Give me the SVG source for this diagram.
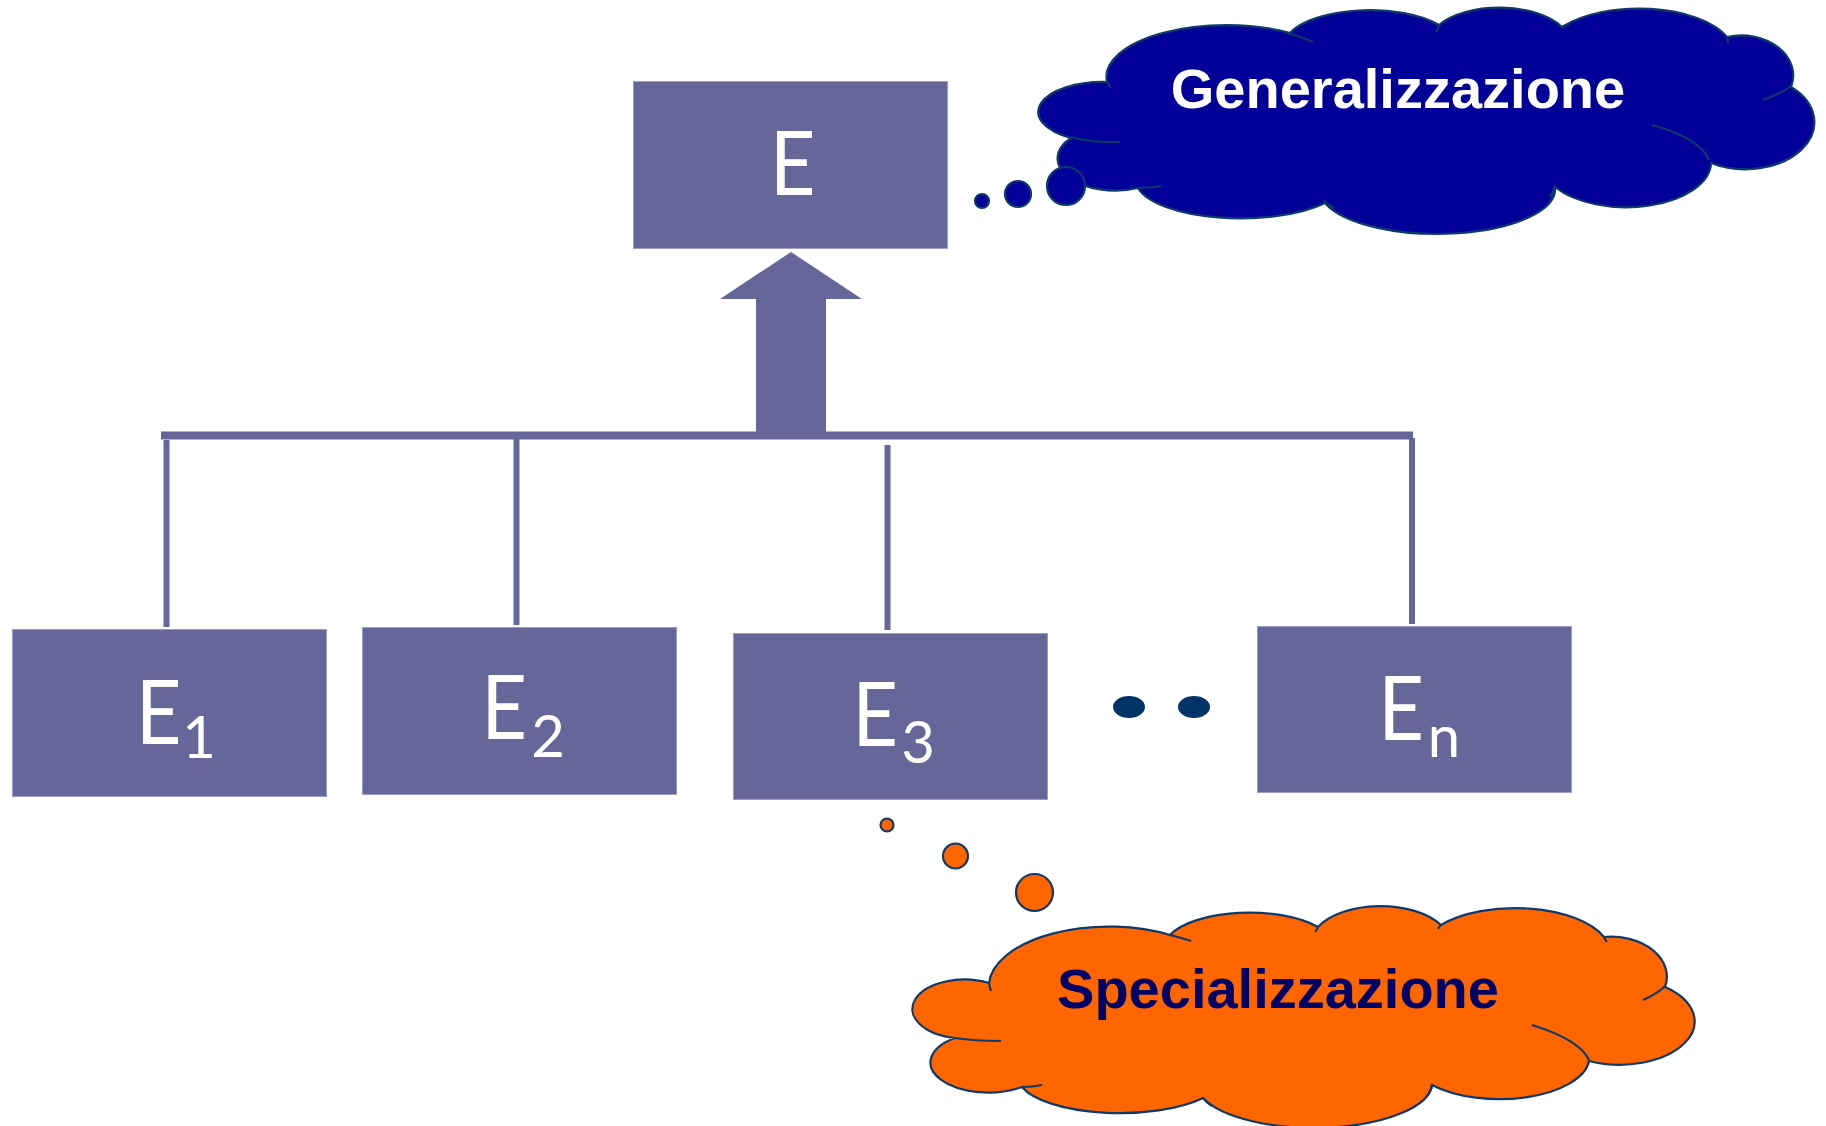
<svg xmlns="http://www.w3.org/2000/svg" width="1826" height="1126" viewBox="0 0 1826 1126">
  <style>
    .entity { fill: #666699; stroke: #9c9cc9; stroke-width: 1; }
    .elabel { fill: #ffffff; font-family: Lato, "DejaVu Sans", sans-serif; font-size: 90px; text-anchor: middle; }
    .esub { fill: #ffffff; font-family: Lato, "DejaVu Sans", sans-serif; font-size: 58px; text-anchor: middle; }
    .link { stroke: #666699; stroke-width: 6; fill: none; }
    .outline { stroke: #0d3a6a; stroke-width: 2.2; }
    .seam { fill: none; stroke: #0d3a6a; stroke-width: 2.2; }
    .blue { fill: #000099; }
    .orange { fill: #ff6600; }
    .cloudtext { font-family: "Liberation Sans", Arial, sans-serif; font-weight: bold; font-size: 56px; text-anchor: middle; }
  </style>

  <!-- connectors: hierarchy bar, drops to children and the generalisation arrow -->
  <g id="connectors">
    <rect x="161" y="431.5" width="1252" height="8" fill="#666699"/>
    <line class="link" x1="166.5" y1="440" x2="166.5" y2="627"/>
    <line class="link" x1="516.5" y1="438" x2="516.5" y2="625"/>
    <line class="link" x1="887.5" y1="445" x2="887.5" y2="630"/>
    <line class="link" x1="1412" y1="438" x2="1412" y2="624"/>
    <polygon points="791,252 862,299 826,299 826,436 756,436 756,299 720,299" fill="#666699"/>
  </g>

  <!-- parent entity -->
  <g id="node-E">
    <rect class="entity" x="633.5" y="81.5" width="314" height="167"/>
    <text class="elabel" transform="translate(792.5 195) scale(0.88 1)">E</text>
  </g>

  <!-- child entities -->
  <g id="node-E1">
    <rect class="entity" x="12.5" y="629.5" width="314" height="167"/>
    <text class="elabel" transform="translate(158.5 744) scale(0.88 1)">E</text>
    <text class="esub" x="199" y="758">1</text>
  </g>
  <g id="node-E2">
    <rect class="entity" x="362.5" y="627.5" width="314" height="167"/>
    <text class="elabel" transform="translate(504 739) scale(0.88 1)">E</text>
    <text class="esub" x="548" y="757">2</text>
  </g>
  <g id="node-E3">
    <rect class="entity" x="733.5" y="633.5" width="314" height="166"/>
    <text class="elabel" transform="translate(875 746) scale(0.88 1)">E</text>
    <text class="esub" x="918" y="763">3</text>
  </g>
  <g id="node-En">
    <rect class="entity" x="1257.5" y="626.5" width="314" height="166"/>
    <text class="elabel" transform="translate(1401 740) scale(0.88 1)">E</text>
    <text class="esub" x="1444" y="757">n</text>
  </g>

  <!-- ellipsis between children -->
  <g id="ellipsis" fill="#003366">
    <ellipse cx="1129" cy="707" rx="16" ry="11"/>
    <ellipse cx="1194" cy="707" rx="16" ry="11"/>
  </g>

  <!-- thought cloud: Generalizzazione -->
  <g id="cloud-generalizzazione">
    <path class="blue outline" d="M1071,138 A65,30 0 0 1 1107,82 A120,52 0 0 1 1290,33 A85,35 0 0 1 1439,25 A70,35 0 0 1 1562,27 A95,45 0 0 1 1727,37 A52,40 0 0 1 1791,87 A69,47 0 0 1 1711,163 A85,45 0 0 1 1555,187 A118,45 0 0 1 1325,203 A105,38 0 0 1 1138,188 A58,32 0 0 1 1071,138 Z"/>
    <path class="seam" d="M1071,137 Q1092,143 1120,142 M1138,188 Q1150,188 1161,186 M1323,200 Q1329,205 1334,208 M1555,186 Q1554,192 1550,197 M1652,125 Q1700,138 1709,160 M1763,100 Q1782,93 1791,86 M1727,37 Q1728,40 1728,43 M1562,27 Q1565,26 1569,24 M1439,25 Q1438,29 1436,32 M1287,33 Q1302,37 1313,42 M1107,82 Q1109,85 1111,88"/>
    <circle class="blue outline" cx="982" cy="201" r="7"/>
    <circle class="blue outline" cx="1018" cy="194" r="13"/>
    <circle class="blue outline" cx="1066" cy="186" r="19"/>
    <text class="cloudtext" x="1398" y="108" fill="#ffffff">Generalizzazione</text>
  </g>

  <!-- thought cloud: Specializzazione -->
  <g id="cloud-specializzazione">
    <circle class="orange outline" cx="887" cy="825" r="6.5"/>
    <circle class="orange outline" cx="955.5" cy="856" r="12.5"/>
    <circle class="orange outline" cx="1034.5" cy="892.5" r="18.5"/>
    <path class="orange outline" d="M955,1038 A52,29.5 0 1 1 989,983 A120,60 0 0 1 1170,935 A85,35 0 0 1 1318,927 A70,38 0 0 1 1441,925 A95,45 0 0 1 1604,937 A56,40 0 0 1 1665,987 A75,43.3 0 0 1 1589,1061 A90,42 0 0 1 1432,1085 A118,45 0 0 1 1203,1098 A102,36 0 0 1 1022,1087 A58,30 0 0 1 955,1038 Z"/>
    <path class="seam" d="M955,1038 Q975,1041 1001,1041 M1022,1087 Q1032,1087 1042,1085 M1203,1098 Q1207,1103 1212,1106 M1432,1085 Q1431,1092 1426,1097 M1532,1025 Q1580,1040 1589,1060 M1643,1000 Q1657,994 1665,986 M1604,937 Q1605,940 1607,942 M1441,925 Q1439,927 1438,929 M1318,927 Q1317,930 1315,932 M1170,935 Q1182,938 1191,941 M989,983 Q990,988 991,991"/>
    <text class="cloudtext" x="1278" y="1008" fill="#000066">Specializzazione</text>
  </g>
</svg>
